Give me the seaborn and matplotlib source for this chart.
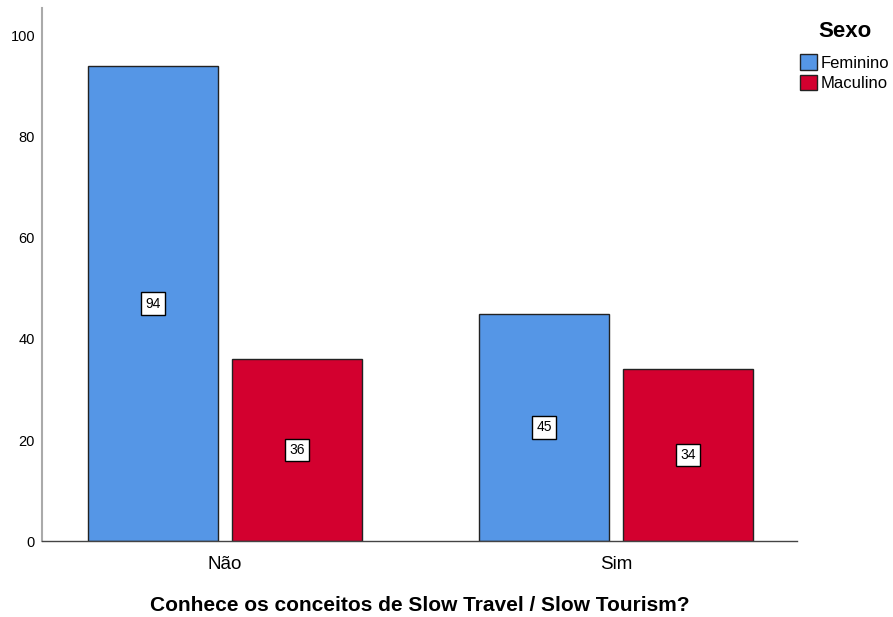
import matplotlib
matplotlib.use("Agg")
import matplotlib.pyplot as plt
import seaborn as sns
import pandas as pd

categories = ["Não", "Sim"]
sexo = ["Feminino", "Maculino"]
feminino = [94, 45]
masculino = [36, 34]

df = pd.DataFrame({
    "resp": categories * 2,
    "Sexo": [sexo[0]] * 2 + [sexo[1]] * 2,
    "count": feminino + masculino,
})

sns.set_theme(style="white")
plt.rcParams["font.family"] = ["Liberation Sans", "DejaVu Sans"]
plt.rcParams["text.color"] = "black"
plt.rcParams["xtick.color"] = "black"
plt.rcParams["ytick.color"] = "black"
plt.rcParams["axes.labelcolor"] = "black"

fig = plt.figure(figsize=(8.93, 6.17), dpi=100)
ax = fig.add_axes([0.047, 0.123, 0.8455, 0.864])
palette = {"Feminino": "#5596E6", "Maculino": "#D3002F"}
sns.barplot(data=df, x="resp", y="count", hue="Sexo", order=categories,
            hue_order=sexo, palette=palette, width=0.736, gap=0.1,
            edgecolor="#222222", linewidth=1, ax=ax, saturation=1, legend=True)

for cont in ax.containers:
    for rect in cont:
        h = rect.get_height()
        ax.text(rect.get_x() + rect.get_width() / 2, h / 2, f"{int(h)}",
                ha="center", va="center", fontsize=10, color="black",
                bbox=dict(boxstyle="square,pad=0.3", fc="white", ec="black", lw=1))

ax.set_xlim(-0.468, 1.463)
ax.set_ylim(0, 105.5)
ax.set_yticks([0, 20, 40, 60, 80, 100])
ax.tick_params(axis="y", labelsize=10.5, length=0, pad=5)
ax.tick_params(axis="x", labelsize=13.5, length=0, pad=11)
ax.set_ylabel("")
ax.set_xlabel("Conhece os conceitos de Slow Travel / Slow Tourism?",
              fontsize=15, fontweight="bold", labelpad=16)
for s in ["top", "right"]:
    ax.spines[s].set_visible(False)
ax.spines["left"].set_color("#aaaaaa")
ax.spines["left"].set_linewidth(1.5)
ax.spines["bottom"].set_color("#444444")
ax.spines["bottom"].set_linewidth(1)

leg = ax.legend(title="Sexo", loc="upper left", bbox_to_anchor=(0.9995, 0.982),
                frameon=False, fontsize=12, title_fontproperties={"weight": "bold", "size": 16},
                handlelength=1.05, handleheight=1.05, handletextpad=0.2, labelspacing=0.25,
                borderaxespad=0.0, borderpad=0.2)
leg._legend_box.align = "center"
leg._legend_box.sep = 9
for h in leg.legend_handles:
    h.set_edgecolor("#222222")

fig.savefig("out.png", dpi=100)
